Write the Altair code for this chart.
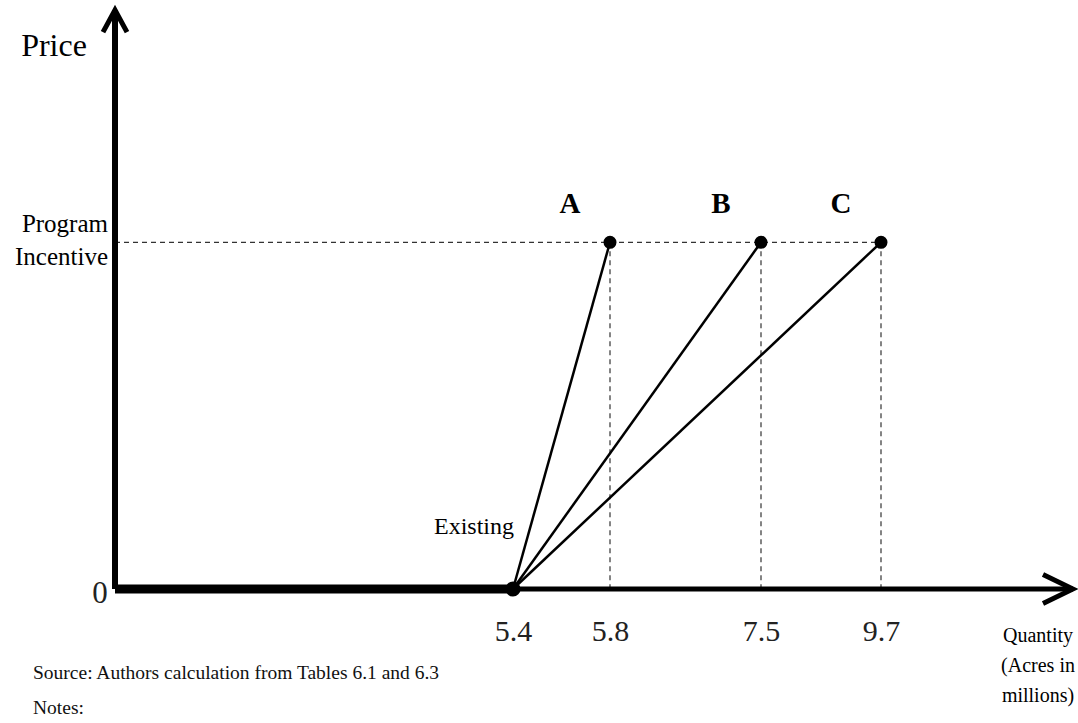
import altair as alt
import pandas as pd

# Supply response of enrolled acreage to a program incentive
EXISTING_ACRES = 5.4                 # millions of acres enrolled today
PROGRAM_ACRES = [5.8, 7.5, 9.7]      # acres under each scenario
SCENARIOS = ["A", "B", "C"]
PROGRAM_INCENTIVE = 1.0              # price level (index)
TICK_VALUES = [5.4, 5.8, 7.5, 9.7]
AXIS_MAX_ACRES = 11.0
PRICE_MAX = 1.67

SERIF = "Liberation Serif"

scenarios = pd.DataFrame({
    "scenario": SCENARIOS,
    "acres": PROGRAM_ACRES,
    "price": [PROGRAM_INCENTIVE] * len(SCENARIOS),
    "acres0": [EXISTING_ACRES] * len(SCENARIOS),
    "price0": [0.0] * len(SCENARIOS),
})
# axis segments: heavy up to the existing acreage, lighter beyond it
x_axis_parts = pd.DataFrame({"acres": [0.0, EXISTING_ACRES],
                             "acres2": [EXISTING_ACRES, AXIS_MAX_ACRES],
                             "price": [0.0, 0.0],
                             "part": ["heavy", "light"]})
y_axis_df = pd.DataFrame({"acres": [0.0], "price": [0.0], "price2": [PRICE_MAX]})
origin = pd.DataFrame({"acres": [0.0], "price": [0.0]})
existing = pd.DataFrame({"acres": [EXISTING_ACRES], "price": [0.0]})
axis_end = pd.DataFrame({"acres": [AXIS_MAX_ACRES], "price": [0.0]})
axis_top = pd.DataFrame({"acres": [0.0], "price": [PRICE_MAX]})
incentive = pd.DataFrame({"acres": [0.0], "acres2": [max(PROGRAM_ACRES)],
                          "price": [PROGRAM_INCENTIVE]})

# The diagram is not drawn to scale: a piecewise scale spaces the ticks
x_scale = alt.Scale(domain=[0.0] + TICK_VALUES + [AXIS_MAX_ACRES],
                    range=[0, 398, 495, 646, 766, 958])
y_scale = alt.Scale(domain=[0, PRICE_MAX])

x_axis = alt.Axis(values=TICK_VALUES, format=".1f", domain=False,
                  ticks=False, grid=False, title=None,
                  labelFont=SERIF, labelFontSize=30, labelColor="#222",
                  labelPadding=27, labelFlush=False, labelOverlap=False)


def X(field="acres"):
    return alt.X(f"{field}:Q", scale=x_scale, axis=x_axis)


def Y(field="price"):
    return alt.Y(f"{field}:Q", scale=y_scale, axis=None)


# Axes drawn as heavy strokes with arrowheads
x_axis_heavy = alt.Chart(x_axis_parts).transform_filter(
    alt.datum.part == "heavy").mark_rule(color="black", strokeWidth=9).encode(
    x=X(), x2="acres2:Q", y=Y())
x_axis_light = alt.Chart(x_axis_parts).transform_filter(
    alt.datum.part == "light").mark_rule(color="black", strokeWidth=5).encode(
    x=X(), x2="acres2:Q", y=Y())
y_axis = alt.Chart(y_axis_df).mark_rule(color="black", strokeWidth=6).encode(
    x=X(), y=Y(), y2="price2:Q")

right_arrow = alt.Chart(axis_end).mark_point(
    shape="M-1.25,-0.6L0,0L-1.25,0.6", size=2304, filled=False,
    stroke="black", strokeWidth=5, opacity=1).encode(x=X(), y=Y())
up_arrow = alt.Chart(axis_top).mark_point(
    shape="M-0.5,0.92L0,0L0.5,0.92", size=2304, filled=False,
    stroke="black", strokeWidth=5, opacity=1).encode(x=X(), y=Y())

# Dashed guides to the incentive level and to each quantity
incentive_line = alt.Chart(incentive).mark_rule(
    color="#333", strokeWidth=1.2, strokeDash=[5, 4]).encode(
    x=X(), x2="acres2:Q", y=Y())
drop_lines = alt.Chart(scenarios).mark_rule(
    color="#333", strokeWidth=1.2, strokeDash=[5, 4]).encode(
    x=X(), y=Y(), y2="price0:Q")

# Supply curves from the existing acreage
supply = alt.Chart(scenarios).mark_rule(color="black", strokeWidth=2.5).encode(
    x=X("acres0"), y=Y("price0"), x2="acres:Q", y2="price:Q")

dots = alt.Chart(scenarios).mark_circle(color="black", size=170, opacity=1).encode(x=X(), y=Y())
existing_dot = alt.Chart(existing).mark_circle(color="black", size=230, opacity=1).encode(x=X(), y=Y())

scenario_labels = alt.Chart(scenarios).mark_text(
    font=SERIF, fontSize=29, fontWeight="bold", color="black", dx=-40, dy=-38).encode(
    x=X(), y=Y(), text="scenario:N")

existing_label = alt.Chart(existing).mark_text(
    font=SERIF, fontSize=24, color="black", dx=-39, dy=-62, text="Existing").encode(
    x=X(), y=Y())

zero_label = alt.Chart(origin).mark_text(
    font=SERIF, fontSize=31, color="#222", dx=-15, dy=5, text="0").encode(
    x=X(), y=Y())

price_label = alt.Chart(axis_top).mark_text(
    font=SERIF, fontSize=32, color="black", dx=-61, dy=36, text="Price").encode(
    x=X(), y=Y())

incentive_label = alt.Chart(incentive).mark_text(
    font=SERIF, fontSize=25, color="black", align="right", baseline="middle",
    lineHeight=33, dx=-7, dy=-18, text=["Program", "Incentive"]).encode(
    x=X(), y=Y())

quantity_label = alt.Chart(axis_end).mark_text(
    font=SERIF, fontSize=20, color="black", align="center", baseline="middle",
    lineHeight=30, dx=-35, dy=47, text=["Quantity", "(Acres in", "millions)"]).encode(
    x=X(), y=Y())

source_note = alt.Chart(origin).mark_text(
    font=SERIF, fontSize=19.5, color="#111", align="left", baseline="middle",
    lineHeight=35, dx=-82, dy=84,
    text=["Source: Authors calculation from Tables 6.1 and 6.3", "Notes:"]).encode(
    x=X(), y=Y())

chart = alt.layer(
    incentive_line, drop_lines, supply,
    x_axis_heavy, x_axis_light, y_axis, right_arrow, up_arrow,
    dots, existing_dot,
    scenario_labels, existing_label, zero_label, price_label,
    incentive_label, quantity_label, source_note,
).properties(
    width=958, height=579,
    autosize=alt.AutoSizeParams(type="none"),
    padding={"left": 115, "top": 10, "right": 5, "bottom": 134},
    background="white",
).configure_view(stroke=None)

chart.save("out.html", embed_options={"renderer": "svg", "actions": False})
